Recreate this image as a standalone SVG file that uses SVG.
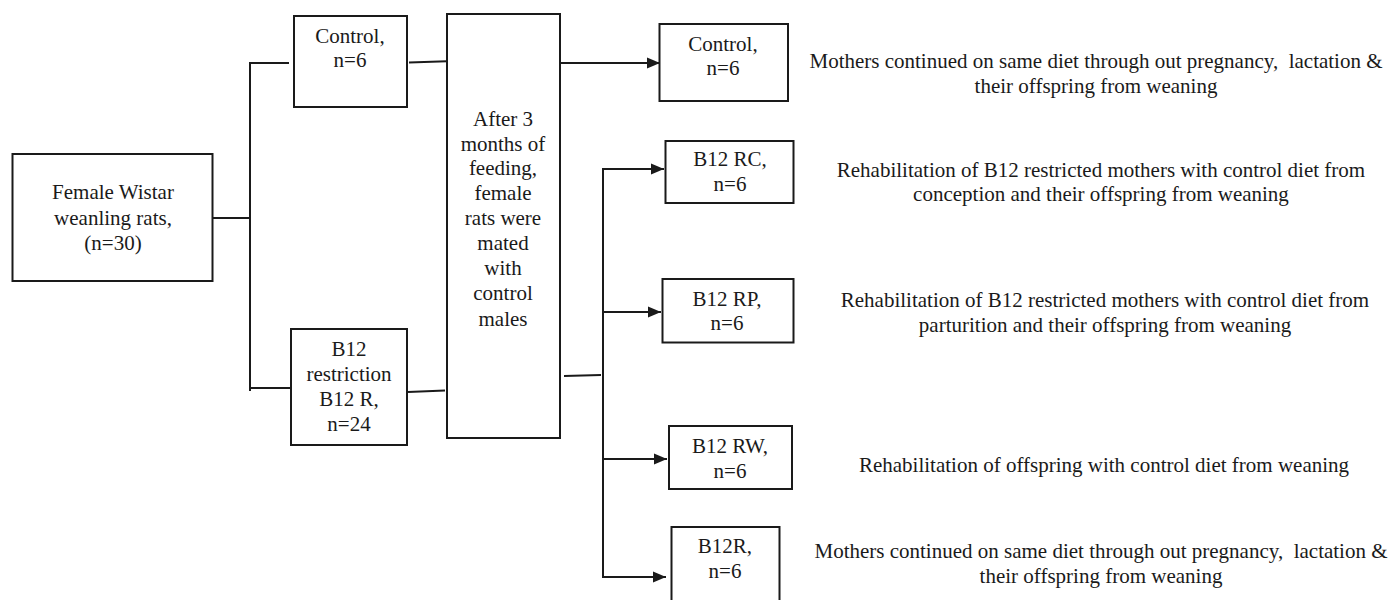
<svg xmlns="http://www.w3.org/2000/svg" width="1398" height="600" viewBox="0 0 1398 600">
<style>
.box{fill:#fff;stroke:#1a1a1a;stroke-width:2}
.ln{fill:none;stroke:#1a1a1a;stroke-width:2}
.t{font-family:'Liberation Serif','Times New Roman',Tinos,'DejaVu Serif',serif;font-size:21px;fill:#1a1a1a;text-anchor:middle;white-space:pre}
</style>
<defs>
<marker id="ah" markerUnits="userSpaceOnUse" markerWidth="15" markerHeight="13" refX="13" refY="6.5" orient="auto">
<path d="M0,1 L13,6.5 L0,12 z" fill="#1a1a1a"/>
</marker>
</defs>
<rect width="1398" height="600" fill="#fff"/>
<g id="connectors">
<line class="ln" x1="213" y1="218" x2="250" y2="218"/>
<line class="ln" x1="250" y1="62" x2="250" y2="391"/>
<line class="ln" x1="249" y1="63" x2="289" y2="63"/>
<line class="ln" x1="249" y1="388" x2="291" y2="388"/>
<line class="ln" x1="409" y1="62.5" x2="447" y2="61.3"/>
<line class="ln" x1="408" y1="392" x2="445" y2="390.5"/>
<line class="ln" x1="560" y1="63" x2="660" y2="63" marker-end="url(#ah)"/>
<line class="ln" x1="564" y1="376" x2="601" y2="375"/>
<line class="ln" x1="603" y1="168" x2="603" y2="578"/>
<line class="ln" x1="602" y1="169" x2="664" y2="169" marker-end="url(#ah)"/>
<line class="ln" x1="603" y1="312" x2="661" y2="312" marker-end="url(#ah)"/>
<line class="ln" x1="603" y1="459" x2="667" y2="459" marker-end="url(#ah)"/>
<line class="ln" x1="602" y1="577" x2="666" y2="577" marker-end="url(#ah)"/>
</g>
<g id="female" class="t">
<rect class="box" x="12.5" y="154" width="200" height="127"/>
<text x="113" y="199">Female Wistar</text>
<text x="113" y="225">weanling rats,</text>
<text x="113" y="250">(n=30)</text>
</g>
<g id="control1" class="t">
<rect class="box" x="294" y="16" width="113" height="91"/>
<text x="350" y="43">Control,</text>
<text x="350" y="67">n=6</text>
</g>
<g id="b12restriction" class="t">
<rect class="box" x="291" y="329" width="116" height="116"/>
<text x="349" y="356">B12</text>
<text x="349" y="381">restriction</text>
<text x="349" y="406">B12 R,</text>
<text x="349" y="431">n=24</text>
</g>
<g id="mating" class="t">
<rect class="box" x="447" y="14" width="113" height="424"/>
<text x="503" y="126">After 3</text>
<text x="503" y="151">months of</text>
<text x="503" y="175">feeding,</text>
<text x="503" y="200">female</text>
<text x="503" y="225">rats were</text>
<text x="503" y="250">mated</text>
<text x="503" y="275">with</text>
<text x="503" y="300">control</text>
<text x="503" y="326">males</text>
</g>
<g id="control2" class="t">
<rect class="box" x="659.5" y="24" width="128.5" height="77"/>
<text x="723" y="51">Control,</text>
<text x="723" y="75">n=6</text>
<text x="1096" y="68" xml:space="preserve">Mothers continued on same diet through out pregnancy,  lactation &amp;</text>
<text x="1096" y="93">their offspring from weaning</text>
</g>
<g id="b12rc" class="t">
<rect class="box" x="665.5" y="141" width="128" height="62"/>
<text x="730" y="166">B12 RC,</text>
<text x="730" y="191">n=6</text>
<text x="1101" y="177">Rehabilitation of B12 restricted mothers with control diet from</text>
<text x="1101" y="201">conception and their offspring from weaning</text>
</g>
<g id="b12rp" class="t">
<rect class="box" x="662.5" y="279" width="131" height="63.5"/>
<text x="727" y="306">B12 RP,</text>
<text x="727" y="330">n=6</text>
<text x="1105" y="307">Rehabilitation of B12 restricted mothers with control diet from</text>
<text x="1105" y="332">parturition and their offspring from weaning</text>
</g>
<g id="b12rw" class="t">
<rect class="box" x="669" y="426" width="123" height="63"/>
<text x="730" y="453">B12 RW,</text>
<text x="730" y="478">n=6</text>
<text x="1104" y="472">Rehabilitation of offspring with control diet from weaning</text>
</g>
<g id="b12r" class="t">
<rect class="box" x="671.5" y="527" width="108" height="80"/>
<text x="725" y="553">B12R,</text>
<text x="725" y="578">n=6</text>
<text x="1101" y="558" xml:space="preserve">Mothers continued on same diet through out pregnancy,  lactation &amp;</text>
<text x="1101" y="583">their offspring from weaning</text>
</g>
</svg>
